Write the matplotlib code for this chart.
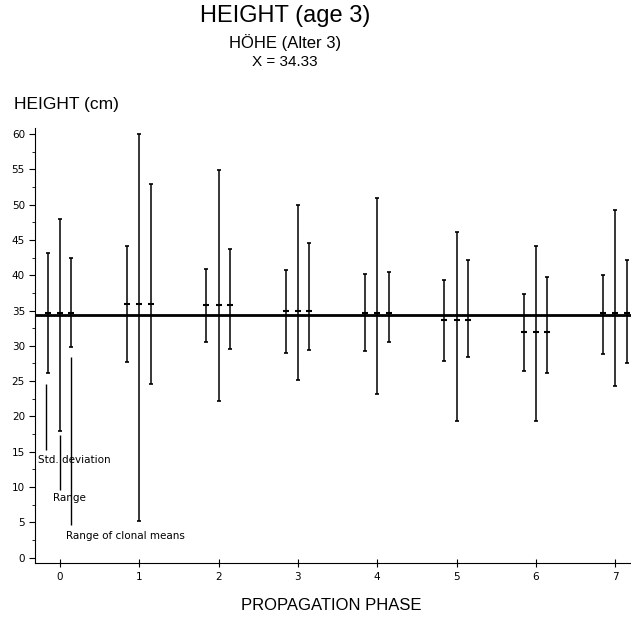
import matplotlib.pyplot as plt
import numpy as np

phases = [0, 1, 2, 3, 4, 5, 6, 7]
overall_mean = 34.33

# mean of each propagation phase
means = [34.6, 35.9, 35.8, 35.0, 34.6, 33.7, 31.9, 34.7]
# standard deviation bars (low, high)
sd_low = [26.1, 27.7, 30.6, 29.0, 29.2, 27.9, 26.5, 28.9]
sd_high = [43.2, 44.2, 40.9, 40.7, 40.2, 39.3, 37.3, 40.0]
# range bars
rng_low = [18.0, 5.2, 22.2, 25.2, 23.2, 19.3, 19.3, 24.3]
rng_high = [47.9, 60.0, 54.9, 49.9, 51.0, 46.1, 44.1, 49.2]
# range of clonal means
cm_low = [29.8, 24.6, 29.6, 29.4, 30.5, 28.4, 26.2, 27.5]
cm_high = [42.4, 52.9, 43.7, 44.5, 40.4, 42.1, 39.7, 42.2]

fig = plt.figure(figsize=(6.31, 6.23), dpi=100)
ax = fig.add_axes([0.056, 0.097, 0.944, 0.698])

x = np.array(phases, dtype=float)
for off, lo, hi in [(-0.155, sd_low, sd_high), (0.0, rng_low, rng_high), (0.145, cm_low, cm_high)]:
    xs = x + off
    ax.vlines(xs, lo, hi, color='black', lw=1.1)
    ax.plot(xs, lo, ls='none', marker='_', ms=3.5, mew=1.2, color='black')
    ax.plot(xs, hi, ls='none', marker='_', ms=3.5, mew=1.2, color='black')
    ax.plot(xs, means, ls='none', marker='_', ms=4.5, mew=1.5, color='black')

ax.axhline(overall_mean, color='black', lw=2)

# explanation of the three bars in phase 0
ax.vlines([-0.17, 0.0, 0.135], [15.3, 9.6, 4.6], [24.6, 17.4, 28.4], color='black', lw=1)
ax.text(-0.28, 13.8, 'Std. deviation', fontsize=7.5, va='center', ha='left')
ax.text(-0.09, 8.4, 'Range', fontsize=7.5, va='center', ha='left')
ax.text(0.08, 3.1, 'Range of clonal means', fontsize=7.5, va='center', ha='left')

ax.set_xlim(-0.31, 7.2)
ax.set_ylim(-0.7, 60.9)
ax.set_xticks(phases)
ax.set_yticks(range(0, 61, 5))
ax.set_yticks(np.arange(2.5, 60, 5), minor=True)
ax.tick_params(labelsize=7.5, width=0.8)
ax.tick_params(axis='x', direction='inout', length=6)
ax.tick_params(axis='y', which='major', length=4)
ax.tick_params(axis='y', which='minor', length=2)
for s in ['top', 'right']:
    ax.spines[s].set_visible(False)

fig.text(0.452, 0.975, 'HEIGHT (age 3)', fontsize=17, ha='center', va='center', family='Liberation Sans')
fig.text(0.452, 0.932, 'HÖHE (Alter 3)', fontsize=12, ha='center', va='center', family='Liberation Sans')
fig.text(0.452, 0.900, 'X = 34.33', fontsize=11, ha='center', va='center', family='Liberation Sans')
fig.text(0.022, 0.833, 'HEIGHT (cm)', fontsize=12.5, ha='left', va='center', family='Liberation Sans')
fig.text(0.525, 0.028, 'PROPAGATION PHASE', fontsize=12, ha='center', va='center', family='Liberation Sans')

fig.savefig('out.png', dpi=100)
